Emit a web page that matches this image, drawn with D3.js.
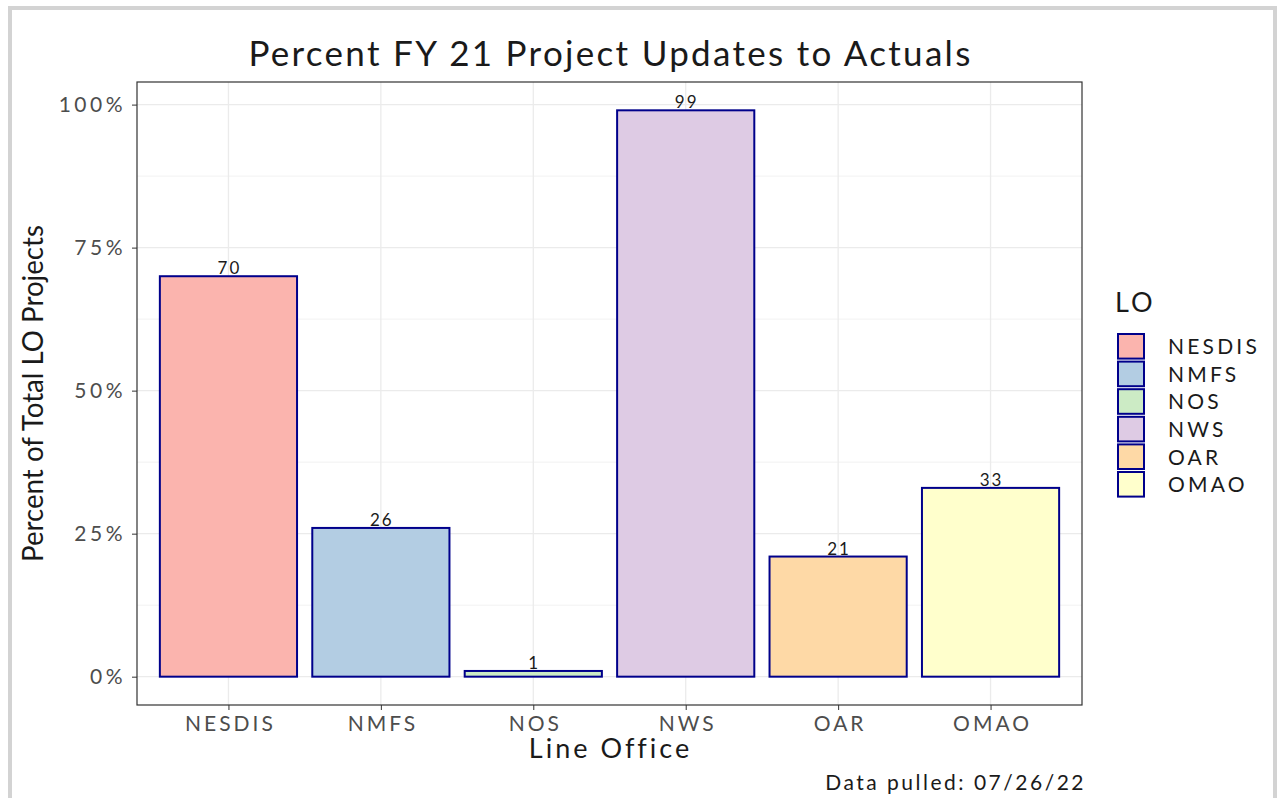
<!DOCTYPE html>
<html>
<head>
<meta charset="utf-8">
<script src="https://cdn.jsdelivr.net/npm/d3@7"></script>
<style>
  body { margin: 0; background: #fff; }
  svg { display: block; font-family: "Lato", "Open Sans", sans-serif; }
</style>
</head>
<body>
<div id="chart"></div>
<script>
// Percent FY 21 project updates to actuals, by line office
const offices = ["NESDIS", "NMFS", "NOS", "NWS", "OAR", "OMAO"];
const percents = [70, 26, 1, 99, 21, 33];
const fills = ["#FBB4AE", "#B3CDE3", "#CCEBC5", "#DECBE4", "#FED9A6", "#FFFFCC"];
const yTicks = [0, 25, 50, 75, 100];
const yMinor = [12.5, 37.5, 62.5, 87.5];

const width = 1280, height = 798;
const panel = { left: 137, right: 1082, top: 82, bottom: 705 };

const svg = d3.select("#chart").append("svg")
  .attr("width", width)
  .attr("height", height);

// outer grey frame
svg.append("rect")
  .attr("x", 10).attr("y", 8)
  .attr("width", 1265).attr("height", 800)
  .style("fill", "none")
  .style("stroke", "#d3d3d3")
  .style("stroke-width", 4);

// scales (ggplot-style expansion)
const yMax = d3.max(percents);
const yScale = d3.scaleLinear()
  .domain([-0.05 * yMax, 1.05 * yMax])
  .range([panel.bottom, panel.top]);

const step = (panel.right - panel.left) / (offices.length - 1 + 1.2);
const xScale = d3.scalePoint()
  .domain(offices)
  .range([panel.left + 0.6 * step, panel.right - 0.6 * step]);
const barW = 0.9 * step;

const color = d3.scaleOrdinal().domain(offices).range(fills);

// grid
const grid = svg.append("g");
yMinor.forEach(v => {
  grid.append("line")
    .attr("x1", panel.left).attr("x2", panel.right)
    .attr("y1", yScale(v)).attr("y2", yScale(v))
    .style("stroke", "#f2f2f2").style("stroke-width", 1);
});
yTicks.forEach(v => {
  grid.append("line")
    .attr("x1", panel.left).attr("x2", panel.right)
    .attr("y1", yScale(v)).attr("y2", yScale(v))
    .style("stroke", "#ebebeb").style("stroke-width", 1.3);
});
offices.forEach(o => {
  grid.append("line")
    .attr("x1", xScale(o)).attr("x2", xScale(o))
    .attr("y1", panel.top).attr("y2", panel.bottom)
    .style("stroke", "#ebebeb").style("stroke-width", 1.3);
});

// bars
svg.append("g").selectAll("rect")
  .data(offices)
  .join("rect")
  .attr("x", (d) => xScale(d) - barW / 2)
  .attr("width", barW)
  .attr("y", (d, i) => yScale(percents[i]))
  .attr("height", (d, i) => yScale(0) - yScale(percents[i]))
  .style("fill", d => color(d))
  .style("stroke", "#00008B")
  .style("stroke-width", 2);

// value labels
svg.append("g").selectAll("text")
  .data(offices)
  .join("text")
  .attr("x", d => xScale(d) + 1)
  .attr("y", (d, i) => yScale(percents[i]) - 2)
  .attr("text-anchor", "middle")
  .style("font-size", "17px")
  .style("letter-spacing", "2px")
  .style("fill", "#1a1a1a")
  .text((d, i) => percents[i]);

// panel border
svg.append("rect")
  .attr("x", panel.left).attr("y", panel.top)
  .attr("width", panel.right - panel.left)
  .attr("height", panel.bottom - panel.top)
  .style("fill", "none")
  .style("stroke", "#333")
  .style("stroke-width", 1.2);

// axes
const yAxis = svg.append("g")
  .attr("transform", `translate(${panel.left},0)`)
  .call(d3.axisLeft(yScale).tickValues(yTicks).tickSize(5).tickPadding(6)
    .tickFormat(d => d + "%"));
yAxis.select(".domain").remove();
yAxis.selectAll("line").style("stroke", "#333");
yAxis.selectAll("text")
  .style("font-family", "Lato, sans-serif")
  .style("font-size", "21px")
  .style("letter-spacing", "3.5px")
  .style("fill", "#4d4d4d");

const xAxis = svg.append("g")
  .attr("transform", `translate(0,${panel.bottom})`)
  .call(d3.axisBottom(xScale).tickSize(5).tickPadding(6));
xAxis.select(".domain").remove();
xAxis.selectAll("line").style("stroke", "#333");
xAxis.selectAll("text")
  .attr("dx", "1.5px")
  .style("font-family", "Lato, sans-serif")
  .style("font-size", "21px")
  .style("letter-spacing", "3px")
  .style("fill", "#4d4d4d");

// titles
svg.append("text")
  .attr("x", (panel.left + panel.right) / 2 + 1)
  .attr("y", 66)
  .attr("text-anchor", "middle")
  .style("font-size", "35px")
  .style("letter-spacing", "2.3px")
  .style("fill", "#1a1a1a")
  .text("Percent FY 21 Project Updates to Actuals");

svg.append("text")
  .attr("x", (panel.left + panel.right) / 2 + 1)
  .attr("y", 758)
  .attr("text-anchor", "middle")
  .style("font-size", "27px")
  .style("letter-spacing", "3px")
  .style("fill", "#1a1a1a")
  .text("Line Office");

svg.append("text")
  .attr("transform", `translate(43,${(panel.top + panel.bottom) / 2}) rotate(-90)`)
  .attr("text-anchor", "middle")
  .attr("textLength", 337)
  .attr("lengthAdjust", "spacingAndGlyphs")
  .style("font-size", "28px")
  .style("fill", "#1a1a1a")
  .text("Percent of Total LO Projects");

svg.append("text")
  .attr("x", panel.right + 4)
  .attr("y", 790)
  .attr("text-anchor", "end")
  .style("font-size", "21px")
  .style("letter-spacing", "2.5px")
  .style("fill", "#1a1a1a")
  .text("Data pulled: 07/26/22");

// legend
const legend = svg.append("g").attr("transform", "translate(1117,0)");
legend.append("text")
  .attr("x", -2).attr("y", 312)
  .style("font-size", "27px")
  .style("letter-spacing", "3px")
  .style("fill", "#1a1a1a")
  .text("LO");

const keyH = 27.6;
offices.forEach((o, i) => {
  const y = 333 + i * keyH;
  legend.append("rect")
    .attr("x", 1).attr("y", y + 1)
    .attr("width", 26).attr("height", keyH - 3)
    .style("fill", color(o))
    .style("stroke", "#00008B")
    .style("stroke-width", 2);
  legend.append("text")
    .attr("x", 51).attr("y", y + keyH / 2)
    .attr("dy", "0.35em")
    .style("font-size", "21px")
    .style("letter-spacing", "3.2px")
    .style("fill", "#1a1a1a")
    .text(o);
});
</script>
</body>
</html>
